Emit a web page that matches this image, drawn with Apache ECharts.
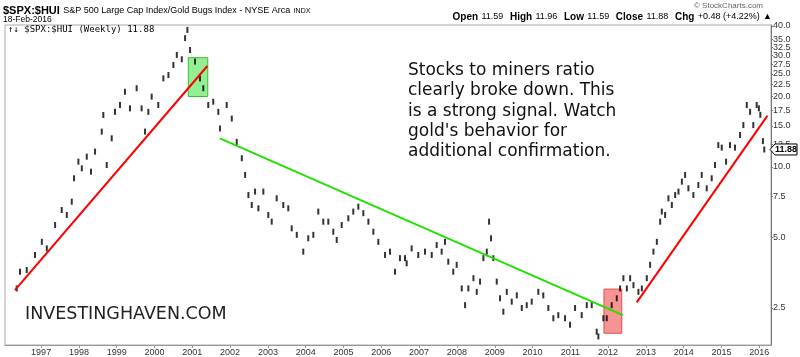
<!DOCTYPE html>
<html><head><meta charset="utf-8">
<script src="https://cdn.jsdelivr.net/npm/echarts@6/dist/echarts.min.js"></script>
<style>html,body{margin:0;padding:0;background:#fff}#c{width:800px;height:357px}</style>
</head><body><div id="c"></div>
<script>
// ---- data ----
const dates = [
'1996-05-10','1996-06-11','1996-08-15','1996-11-03','1997-01-08','1997-02-25','1997-05-16','1997-07-19','1997-09-06','1997-10-24',
'1997-11-15','1997-12-27','1998-01-29','1998-03-18','1998-04-28','1998-06-06','1998-08-10','1998-08-25','1998-09-27','1998-11-14',
'1998-12-16','1999-02-02','1999-03-22','1999-05-10','1999-07-13','1999-08-30','1999-10-02','1999-11-03','1999-12-05','2000-02-07',
'2000-03-27','2000-05-15','2000-07-02','2000-08-04','2000-09-21','2000-10-23','2000-11-14','2000-12-10','2001-01-27','2001-03-16',
'2001-04-17','2001-06-04','2001-07-22','2001-09-09','2001-09-25','2001-11-29','2002-01-17','2002-03-06','2002-04-24','2002-05-26',
'2002-06-27','2002-07-29','2002-08-30','2002-10-01','2002-11-18','2003-01-05','2003-02-07','2003-03-27','2003-05-30','2003-07-17',
'2003-08-19','2003-10-07','2003-12-09','2004-01-26','2004-03-15','2004-05-02','2004-06-19','2004-08-07','2004-09-24','2004-10-27',
'2004-12-14','2005-02-16','2005-04-05','2005-05-24','2005-07-11','2005-08-29','2005-10-16','2005-12-03','2006-02-06','2006-03-26',
'2006-05-13','2006-06-30','2006-08-18','2006-09-03','2006-10-21','2006-12-24','2007-02-27','2007-05-03','2007-06-20','2007-08-07',
'2007-09-08','2007-10-10','2007-11-27','2007-12-30','2008-02-17','2008-03-20','2008-04-21','2008-06-09','2008-07-11','2008-08-12',
'2008-09-13','2008-10-16','2008-11-07','2008-11-26','2008-12-18','2009-01-20','2009-02-21','2009-03-25','2009-04-27','2009-06-14',
'2009-08-02','2009-09-19','2009-11-06','2009-12-24','2010-02-26','2010-04-15','2010-06-03','2010-07-21','2010-09-07','2010-11-11',
'2010-12-29','2011-02-16','2011-04-21','2011-06-09','2011-07-27','2011-09-13','2011-09-29','2011-11-16','2011-12-19','2012-02-05',
'2012-03-25','2012-04-26','2012-05-28','2012-06-30','2012-08-01','2012-09-02','2012-10-20','2012-11-22','2013-01-09','2013-02-10',
'2013-03-14','2013-04-16','2013-05-18','2013-06-03','2013-07-05','2013-08-06','2013-09-08','2013-10-10','2013-11-11','2013-12-14',
'2014-01-14','2014-02-15','2014-04-04','2014-05-22','2014-06-24','2014-08-11','2014-09-28','2014-10-30','2014-12-01','2015-01-03',
'2015-02-14','2015-03-24','2015-05-11','2015-06-29','2015-07-31','2015-09-02','2015-10-04','2015-11-04','2015-12-07','2015-12-28',
'2016-01-11','2016-02-05','2016-02-18'];
const ratio = [
3.03,3.57,3.63,4.21,4.79,4.49,5.65,6.55,6.24,7.11,
8.95,10.54,9.87,11.07,9.55,11.63,14.16,16.68,10.20,13.26,
17.2,18.4,20.95,17.8,21.7,17.8,14.16,17.2,19.97,18.4,
23.9,24.7,27.25,30.1,28.85,35.5,38.5,31.6,28.2,23.9,
21.7,18.4,19.0,17.2,14.6,18.4,16.1,12.8,10.9,9.25,
7.59,6.88,7.85,6.66,7.85,6.24,5.84,7.35,6.88,6.66,
5.47,5.13,4.35,4.96,5.13,6.45,5.84,5.84,5.29,4.88,
5.65,6.04,6.45,6.77,6.35,5.84,5.29,4.79,4.21,4.35,
3.57,4.08,4.08,3.88,4.49,4.21,4.35,4.21,4.64,4.35,
4.79,3.94,3.57,3.82,3.03,2.57,3.03,3.35,2.93,3.24,
4.08,4.35,5.84,4.96,4.08,3.24,2.75,2.41,2.93,2.66,
2.83,2.50,2.57,2.66,2.93,2.83,2.50,2.26,2.33,2.26,
2.12,2.50,2.33,2.57,2.57,1.98,1.89,2.26,2.26,2.57,
2.75,3.03,3.35,3.03,3.35,3.13,2.93,3.03,3.35,3.82,
4.35,4.79,5.84,6.45,6.24,7.35,6.88,7.59,7.85,8.66,
9.25,8.11,7.59,8.38,9.25,8.11,8.95,10.2,12.4,12.1,
10.54,12.4,12.1,13.7,15.1,18.4,17.2,15.1,18.4,17.8,
16.7,12.9,11.88];
const yearLabels = [1997,1998,1999,2000,2001,2002,2003,2004,2005,2006,2007,2008,2009,2010,2011,2012,2013,2014,2015,2016];
const priceTicks = [2.5,5,7.5,10,12.5,15,17.5,20,22.5,25,27.5,30,32.5,35,37.5,40];
const redLine1Dates = ['1996-04-23','2001-05-26'];
const redLine1Values = [2.98,27.0];
const greenLineDates = ['2001-09-25','2012-05-22'];
const greenLineValues = [13.26,2.33];
const redLine2Dates = ['2012-10-04','2016-03-20'];
const redLine2Values = [2.64,16.56];
const greenBoxDates = ['2000-11-23','2001-05-30'];
const greenBoxValues = [20.0,29.3];
const redBoxDates = ['2011-11-22','2012-05-12'];
const redBoxValues = [1.95,3.01];
const annotationLines = ['Stocks to miners ratio','clearly broke down. This','is a strong signal. Watch',"gold's behavior for",'additional confirmation.'];

// ---- helpers ----
const ts = s => { const p = s.split('-').map(Number); return Date.UTC(p[0], p[1]-1, p[2]); };
const L = v => Math.log10(v);
const pair = (ds, vs) => ds.map((d,i)=>[ts(d), L(vs[i])]);
const last = ratio[ratio.length-1];
const lastDate = dates[dates.length-1];
const F = 'Arial, Liberation Sans';

const chart = echarts.init(document.getElementById('c'), null, {renderer:'canvas'});
chart.setOption({
  animation:false,
  backgroundColor:'#fff',
  grid:{left:5,right:29,top:25,bottom:12,show:true,borderColor:'#a8a8a8',borderWidth:1,containLabel:false},
  xAxis:{
    type:'value', min:ts('1996-01-18'), max:ts('2016-04-23'),
    splitLine:{show:false},
    axisLine:{show:true,lineStyle:{color:'#999',width:1}},
    axisTick:{show:true,length:3,customValues:yearLabels.map(y=>Date.UTC(y,0,1)),lineStyle:{color:'#999'}},
    axisLabel:{customValues:yearLabels.map(y=>Date.UTC(y,0,1)),formatter:v=>String(new Date(v).getUTCFullYear()),
      fontSize:9,fontFamily:F,color:'#333',margin:3,hideOverlap:false}
  },
  yAxis:{
    type:'value', position:'right', min:L(1.737), max:L(40.4),
    splitLine:{show:false},
    axisLine:{show:true,lineStyle:{color:'#777',width:1}},
    axisTick:{show:true,length:2,customValues:priceTicks.map(L),lineStyle:{color:'#777'}},
    axisLabel:{customValues:priceTicks.map(L),formatter:v=>Math.pow(10,v).toFixed(1),showMaxLabel:true,showMinLabel:true,hideOverlap:false,
      fontSize:9,lineHeight:9,fontFamily:F,color:'#333',margin:2}
  },
  series:[
    {type:'line',data:pair(redLine1Dates,redLine1Values),symbol:'none',lineStyle:{color:'#ff0000',width:2},z:3,silent:true,
     markArea:{silent:true,data:[
       [{coord:[ts(greenBoxDates[0]),L(greenBoxValues[1])],itemStyle:{color:'rgba(60,225,60,0.55)',borderColor:'#34c034',borderWidth:1}},
        {coord:[ts(greenBoxDates[1]),L(greenBoxValues[0])]}],
       [{coord:[ts(redBoxDates[0]),L(redBoxValues[1])],itemStyle:{color:'rgba(240,80,80,0.62)',borderColor:'#e05050',borderWidth:1}},
        {coord:[ts(redBoxDates[1]),L(redBoxValues[0])]}]
     ]}},
    {type:'scatter',data:dates.map((d,i)=>[ts(d),L(ratio[i])]),symbol:'rect',symbolSize:[2,6],
     itemStyle:{color:'#000'},z:2,silent:true},
    {type:'line',data:pair(greenLineDates,greenLineValues),symbol:'none',lineStyle:{color:'#22e000',width:2},z:3,silent:true},
    {type:'line',data:pair(redLine2Dates,redLine2Values),symbol:'none',lineStyle:{color:'#ff0000',width:2},z:3,silent:true}
  ],
  graphic:[
    {id:'h1',type:'text',x:3,y:11,style:{text:'{a|$SPX:$HUI} {b|S&P 500 Large Cap Index/Gold Bugs Index - NYSE Arca} {c|INDX}',
      verticalAlign:'middle',textVerticalAlign:'middle',
      rich:{a:{font:'bold 11px '+F,fill:'#000'},b:{font:'9px '+F,fill:'#000'},c:{font:'7px '+F,fill:'#000'}}}},
    {id:'h2',type:'text',x:3,y:19.5,style:{text:'18-Feb-2016',font:'8.5px '+F,fill:'#000',verticalAlign:'middle',textVerticalAlign:'middle'}},
    {id:'h3',type:'text',x:763,y:6,style:{text:'© StockCharts.com',font:'8px '+F,fill:'#666',align:'right',textAlign:'right',verticalAlign:'middle',textVerticalAlign:'middle'}},
    {id:'h4',type:'text',x:772,y:17,style:{text:'{k|Open} {v|11.59}  {k|High} {v|11.96}  {k|Low} {v|11.59}  {k|Close} {v|11.88}  {k|Chg} {v|+0.48 (+4.22%)} {v|▲}',
      align:'right',textAlign:'right',verticalAlign:'middle',textVerticalAlign:'middle',
      rich:{k:{font:'bold 10px '+F,fill:'#000'},v:{font:'9px '+F,fill:'#000'}}}},
    {id:'h5',type:'text',x:8,y:29.5,style:{text:'↑↓ $SPX:$HUI (Weekly) 11.88',font:'9px DejaVu Sans Mono',fill:'#000',verticalAlign:'middle',textVerticalAlign:'middle'}},
    {id:'note',type:'text',x:408,y:60.6,style:{text:annotationLines.join('\n'),font:'17px DejaVu Sans',lineHeight:20.3,fill:'#111',verticalAlign:'top',textVerticalAlign:'top'}},
    {id:'brand',type:'text',x:25,y:314,style:{text:'INVESTINGHAVEN.COM',font:'17.5px DejaVu Sans',fill:'#222',verticalAlign:'middle',textVerticalAlign:'middle'}}
  ]
});
// last-value tag placed through the axis scale
const py = chart.convertToPixel({gridIndex:0}, [ts(lastDate), L(last)])[1];
const ax = 770;
chart.setOption({graphic:[
  {id:'tagBox',type:'polygon',shape:{points:[[ax,py],[ax+5,py-5.5],[ax+27,py-5.5],[ax+27,py+5.5],[ax+5,py+5.5]]},style:{fill:'#fff',stroke:'#000',lineWidth:1},z:100},
  {id:'tagText',type:'text',x:ax+16,y:py+0.5,style:{text:last.toFixed(2),font:'bold 9px '+F,fill:'#000',align:'center',textAlign:'center',verticalAlign:'middle',textVerticalAlign:'middle'},z:101}
]});
</script></body></html>
